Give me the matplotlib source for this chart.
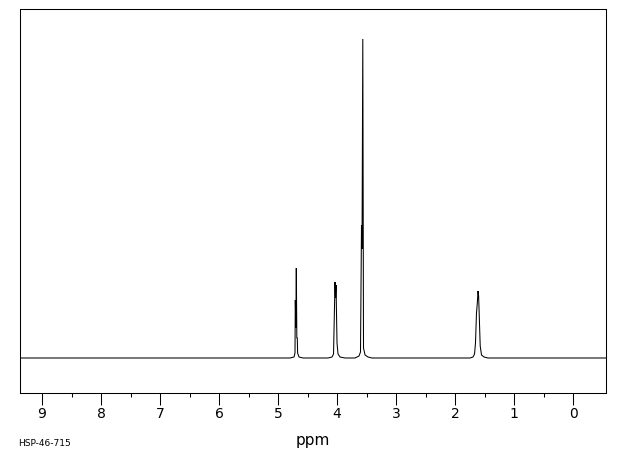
import matplotlib
matplotlib.use("Agg")
import matplotlib.pyplot as plt
from matplotlib.ticker import FixedLocator

# Spectrum trace (chemical shift in ppm, intensity in arbitrary units)
trace_ppm = [9.40,
             4.797, 4.729, 4.712, 4.707, 4.698, 4.690, 4.681, 4.673, 4.668, 4.644, 4.576,
             4.153, 4.085, 4.059, 4.034, 4.025, 4.017, 4.000, 3.983, 3.949, 3.864,
             3.695, 3.627, 3.602, 3.585, 3.576, 3.563, 3.551, 3.525, 3.475, 3.407,
             1.746, 1.695, 1.669, 1.653, 1.636, 1.622, 1.610, 1.600, 1.588, 1.573, 1.551, 1.508, 1.441,
             -0.60]
trace_int = [0,
             0, 1, 5, 58, 30, 90, 20, 20, 5, 1, 0,
             0, 1, 4, 76, 60, 73, 15, 4, 1, 0,
             0, 2, 6, 133, 109, 319, 10, 3, 1, 0,
             0, 1, 4, 15, 45, 55, 67, 62, 40, 12, 3, 1, 0,
             0]

tick_values = [9, 8, 7, 6, 5, 4, 3, 2, 1, 0]
minor_tick_values = [8.5, 7.5, 6.5, 5.5, 4.5, 3.5, 2.5, 1.5, 0.5]
x_label = "ppm"
sample_id = "HSP-46-715"

fig = plt.figure(figsize=(6.2, 4.55), dpi=100)
ax = fig.add_axes([20 / 620, 1 - 393 / 455, 586 / 620, 384 / 455])

ax.plot(trace_ppm, trace_int, color="black", linewidth=0.75, solid_joinstyle="miter")

ax.set_xlim(9.373, -0.559)
ax.set_ylim(-35, 349)

ax.set_xticks(tick_values)
ax.set_xticklabels([str(v) for v in tick_values])
ax.xaxis.set_minor_locator(FixedLocator(minor_tick_values))
ax.tick_params(axis="x", which="major", direction="out", length=8.6, width=0.75,
               labelsize=10, pad=1.5, colors="black")
ax.tick_params(axis="x", which="minor", direction="out", length=3.2, width=0.75)
ax.set_yticks([])
for s in ax.spines.values():
    s.set_linewidth(0.75)
    s.set_color("black")

fig.text(313 / 620, 1 - 440 / 455, x_label, ha="center", va="center", fontsize=11)
fig.text(18 / 620, 1 - 443 / 455, sample_id, ha="left", va="center", fontsize=6.5)

fig.savefig("out.png", dpi=100)
